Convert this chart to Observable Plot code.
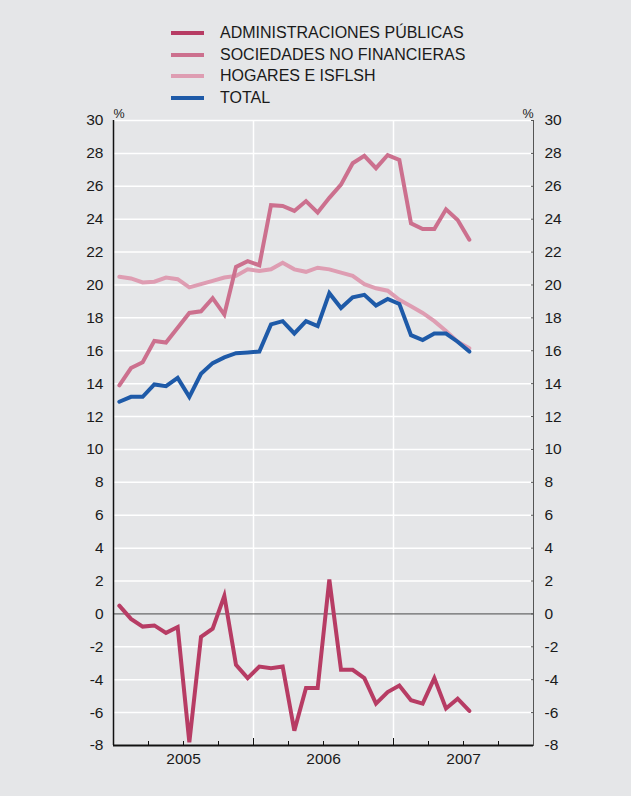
<!DOCTYPE html>
<html>
<head>
<meta charset="utf-8">
<script src="https://cdn.jsdelivr.net/npm/d3@7"></script>
<script src="https://cdn.jsdelivr.net/npm/@observablehq/plot@0.6"></script>
<style>
  html, body { margin: 0; padding: 0; background: #e5e6e8; }
  #wrap { position: relative; width: 631px; height: 796px; background: #e5e6e8; font-family: "Liberation Sans", Arial, sans-serif; color: #1a1a1a; overflow: hidden; }
  #legend { position: absolute; left: 171px; top: 22px; font-size: 16px; line-height: 21.7px; }
  #legend .row { display: flex; align-items: center; height: 21.7px; }
  #legend .sw { width: 33px; height: 4px; margin-right: 16px; }
  #chart { position: absolute; left: 0; top: 100px; }
</style>
</head>
<body>
<div id="wrap">
  <div id="legend"></div>
  <div id="chart"></div>
</div>
<script>
// Monthly series, January 2005 to July 2007 (%)
const seriesNames = ["ADMINISTRACIONES PÚBLICAS", "SOCIEDADES NO FINANCIERAS", "HOGARES E ISFLSH", "TOTAL"];
const seriesColors = ["#b73c64", "#cc708e", "#de9db2", "#1e5aa8"];

const administraciones = [0.5, -0.3, -0.77, -0.7, -1.15, -0.8, -7.8, -1.4, -0.9, 1.1,
  -3.1, -3.9, -3.2, -3.3, -3.2, -7.1, -4.5, -4.5, 2.1, -3.4,
  -3.4, -3.9, -5.45, -4.75, -4.35, -5.25, -5.45, -3.9, -5.75, -5.15, -5.9];
const sociedades = [13.9, 14.95, 15.3, 16.6, 16.5, 17.4, 18.3, 18.4, 19.2, 18.2,
  21.1, 21.45, 21.2, 24.85, 24.8, 24.5, 25.1, 24.4, 25.3, 26.1,
  27.4, 27.85, 27.1, 27.9, 27.6, 23.75, 23.4, 23.4, 24.6, 23.95, 22.75];
const hogares = [20.5, 20.4, 20.15, 20.2, 20.45, 20.35, 19.85, 20.05, 20.25, 20.45,
  20.55, 20.95, 20.85, 20.95, 21.35, 20.95, 20.8, 21.05, 20.95, 20.75,
  20.55, 20.05, 19.8, 19.65, 19.1, 18.7, 18.3, 17.8, 17.2, 16.55, 16.15];
const total = [12.9, 13.2, 13.2, 13.95, 13.85, 14.35, 13.2, 14.6, 15.25, 15.6,
  15.85, 15.9, 15.95, 17.6, 17.8, 17.05, 17.8, 17.5, 19.5, 18.6,
  19.25, 19.4, 18.75, 19.15, 18.85, 16.95, 16.65, 17.05, 17.05, 16.55, 15.95];

const years = [2005, 2006, 2007];
const yTicks = d3.range(-8, 31, 2);

// x in months since Jan 2005; each monthly value sits mid-month
const firstYear = years[0];
const monthsTotal = years.length * 12;
const seriesValues = [administraciones, sociedades, hogares, total];
const table = seriesValues.flatMap((vals, s) => vals.map((v, i) => ({serie: seriesNames[s], m: i + 0.5, v})));
const quarterTicks = d3.range(3, monthsTotal, 3).filter(m => m % 12 !== 0);
const yearBounds = d3.range(12, monthsTotal + 1, 12);
const yearMid = years.map(y => (y - firstYear) * 12 + 6);

// legend
const legend = document.getElementById("legend");
seriesNames.forEach((n, i) => {
  const row = document.createElement("div");
  row.className = "row";
  row.innerHTML = `<span class="sw" style="background:${seriesColors[i]}"></span><span>${n}</span>`;
  legend.appendChild(row);
});

const lineOpts = {strokeWidth: 4, strokeLinejoin: "miter", strokeMiterlimit: 4};
const drawOrder = [2, 1, 3, 0];
const fmt = d => String(d);

const chart = Plot.plot({
  width: 631,
  height: 690,
  marginLeft: 113,
  marginRight: 98,
  marginTop: 20,
  marginBottom: 45,
  style: {fontFamily: "'Liberation Sans', Arial, sans-serif", fontSize: "15.5px", background: "transparent", color: "#1a1a1a"},
  x: {domain: [0, monthsTotal]},
  y: {domain: [-8, 30]},
  marks: [
    Plot.ruleY(yTicks.filter(d => d !== 0), {stroke: "white", strokeWidth: 1.5}),
    Plot.ruleX(yearBounds.filter(d => d < monthsTotal), {stroke: "white", strokeWidth: 1.5}),
    Plot.ruleY([0], {stroke: "#4a4a4a", strokeWidth: 1}),
    ...drawOrder.map(s => Plot.line(table.filter(d => d.serie === seriesNames[s]), {x: "m", y: "v", stroke: seriesColors[s], ...lineOpts})),
    Plot.axisY({anchor: "left", ticks: yTicks, tickSize: 0, tickPadding: 10, tickFormat: fmt, label: null}),
    Plot.axisY({anchor: "right", ticks: yTicks, tickSize: -3, tickPadding: 14, tickFormat: fmt, label: null, stroke: "#555"}),
    Plot.axisX({ticks: quarterTicks, tickSize: -4, tickFormat: () => "", label: null, stroke: "#111"}),
    Plot.axisX({ticks: yearBounds, tickSize: -7, tickFormat: () => "", label: null, stroke: "#111"}),
    Plot.axisX({ticks: yearMid, tickSize: 0, tickPadding: 7, tickFormat: (d, i) => String(years[i]), label: null}),
    Plot.ruleX([0], {stroke: "#111", strokeWidth: 1.5}),
    Plot.ruleX([monthsTotal], {stroke: "#555", strokeWidth: 1}),
    Plot.ruleY([-8], {stroke: "#111", strokeWidth: 2}),
    Plot.text(["%"], {frameAnchor: "top-left", dy: -11, fontSize: 12.5}),
    Plot.text(["%"], {frameAnchor: "top-right", dy: -11, fontSize: 12.5})
  ]
});
document.getElementById("chart").appendChild(chart);
</script>
</body>
</html>
